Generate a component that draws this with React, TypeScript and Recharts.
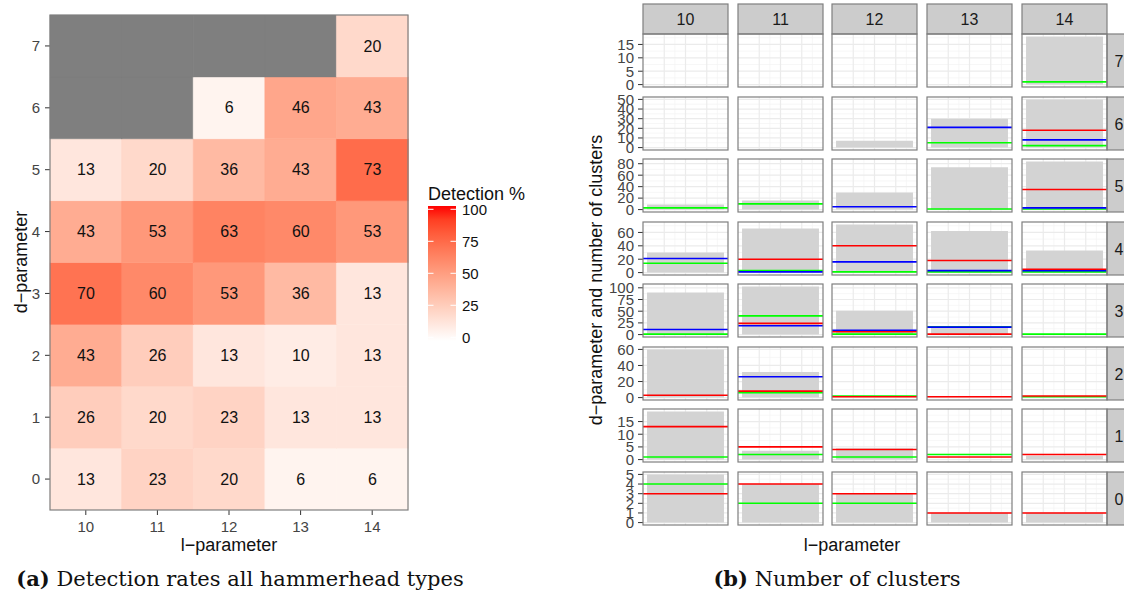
import React from "react";
import {
  BarChart, Bar, Cell, LabelList, XAxis, YAxis,
  ComposedChart, CartesianGrid, ReferenceArea, ReferenceLine,
} from "recharts";

// ── Data ───────────────────────────────────────────────────────────────────────
const L_PARAMS = [10, 11, 12, 13, 14];
const D_PARAMS = [7, 6, 5, 4, 3, 2, 1, 0]; // rows, top to bottom

// detection % (rows d = 7..0, columns l = 10..14), null = not measured
const DETECTION: (number | null)[][] = [
  [null, null, null, null, 20],
  [null, null, 6, 46, 43],
  [13, 20, 36, 43, 73],
  [43, 53, 63, 60, 53],
  [70, 60, 53, 36, 13],
  [43, 26, 13, 10, 13],
  [26, 20, 23, 13, 13],
  [13, 23, 20, 6, 6],
];
const LEGEND_TICKS = [0, 25, 50, 75, 100];

// number of clusters (rows d = 7..0, columns l = 10..14)
const CLUSTER_TOTAL: (number | null)[][] = [
  [null, null, null, null, 18],
  [null, null, 7, 30, 50],
  [9, 16, 30, 74, 84],
  [30, 66, 72, 62, 33],
  [90, 103, 51, 14, null],
  [60, 32, null, null, null],
  [19, 3.5, 4.5, null, 1.5],
  [5, 4, 3, 1, 1],
];
const CLUSTER_RED: (number | null)[][] = [
  [null, null, null, null, null],
  [null, null, null, null, 18],
  [null, null, null, null, 35],
  [null, 20, 40, 18, 5],
  [null, 24, 6, 1, null],
  [3, 8, 1, 1, 2],
  [13, 5, 4, 1, 2],
  [3, 4, 3, 1, 1],
];
const CLUSTER_BLUE: (number | null)[][] = [
  [null, null, null, null, null],
  [null, null, null, 21, 8],
  [null, null, 5, null, 3],
  [21, 1, 16, 3, 3],
  [11, 19, 9, 16, null],
  [null, 26, null, null, null],
  [null, null, null, null, null],
  [null, null, null, null, null],
];
const CLUSTER_GREEN: (number | null)[][] = [
  [null, null, null, null, 1],
  [null, null, null, 5, 2],
  [3, 10, null, 1, 1],
  [14, 3, 1, 1, 1],
  [1, 40, 1, 16.5, 1],
  [null, 6, 2, null, 1],
  [1, 2, 1, 2, null],
  [4, 2, 2, null, null],
];

// free y scales per facet row (d = 7..0)
const ROW_DOMAINS = [[-0.9, 18.9], [-2.5, 52.5], [-4.2, 88.2], [-3.6, 75.6], [-5.15, 108.15], [-3, 63], [-0.95, 19.95], [-0.25, 5.25]];
const ROW_TICKS = [
  [0, 5, 10, 15], [0, 10, 20, 30, 40, 50], [0, 20, 40, 60, 80], [0, 20, 40, 60],
  [0, 25, 50, 75, 100], [0, 20, 40, 60], [0, 5, 10, 15], [0, 1, 2, 3, 4, 5],
];
const ROW_MINOR = [
  [2.5, 7.5, 12.5, 17.5], [5, 15, 25, 35, 45], [10, 30, 50, 70], [10, 30, 50, 70],
  [12.5, 37.5, 62.5, 87.5], [10, 30, 50], [2.5, 7.5, 12.5, 17.5], [0.5, 1.5, 2.5, 3.5, 4.5],
];

// ── Style ──────────────────────────────────────────────────────────────────────
const FONT = "'Liberation Sans', Arial, sans-serif";
const SERIF = "'DejaVu Serif', serif";
const BORDER = "#7F7F7F";
const NA_GREY = "#7F7F7F";
const TXT = "#444444";

// white → red in CIELAB, like ggplot's scale_fill_gradient
function labHex(L: number, a: number, b: number) {
  const fy = (L + 16) / 116, fx = fy + a / 500, fz = fy - b / 200;
  const f = (t: number) => (t ** 3 > 0.008856 ? t ** 3 : (t - 16 / 116) / 7.787);
  const X = 0.95047 * f(fx), Y = f(fy), Z = 1.08883 * f(fz);
  const lin = [
    3.2406 * X - 1.5372 * Y - 0.4986 * Z,
    -0.9689 * X + 1.8758 * Y + 0.0415 * Z,
    0.0557 * X - 0.204 * Y + 1.057 * Z,
  ];
  return "#" + lin.map((c) => {
    const g = c > 0.0031308 ? 1.055 * c ** (1 / 2.4) - 0.055 : 12.92 * c;
    return Math.round(Math.min(1, Math.max(0, g)) * 255).toString(16).padStart(2, "0");
  }).join("");
}
const heat = (v: number) => {
  const t = v / 100;
  return labHex(100 - t * 46.76, 80.09 * t, 67.2 * t);
};

// ── Heatmap (a) ────────────────────────────────────────────────────────────────
const heatData = L_PARAMS.map((l, ci) => {
  const row: Record<string, any> = { l: String(l) };
  D_PARAMS.forEach((d, ri) => {
    row[`d${d}`] = 1;
    row[`v${d}`] = DETECTION[ri][ci];
  });
  return row;
});

function Heatmap() {
  const stack = [...D_PARAMS].reverse();
  return (
    <div style={{ position: "absolute", left: 0, top: 0 }}>
      <BarChart width={420} height={540} data={heatData} barCategoryGap={0} barGap={0}
        margin={{ top: 15, right: 12, bottom: 0, left: 0 }}>
        <XAxis dataKey="l" height={30} axisLine={false} tickSize={5} tickMargin={6}
          tickLine={{ stroke: "#333" }} tick={{ fontSize: 15, fill: TXT, fontFamily: FONT }} />
        <YAxis type="number" domain={[0, 8]} allowDataOverflow width={50}
          ticks={[0.5, 1.5, 2.5, 3.5, 4.5, 5.5, 6.5, 7.5]} tickFormatter={(v) => String(v - 0.5)}
          axisLine={false} tickSize={5} tickMargin={5} tickLine={{ stroke: "#333" }}
          tick={{ fontSize: 15, fill: TXT, fontFamily: FONT }} />
        {stack.map((d) => {
          const ri = D_PARAMS.indexOf(d);
          return (
            <Bar key={d} dataKey={`d${d}`} stackId="h" isAnimationActive={false}>
              {L_PARAMS.map((_, ci) => {
                const v = DETECTION[ri][ci];
                const col = v == null ? NA_GREY : heat(v);
                return <Cell key={ci} fill={col} stroke={col} strokeWidth={0.5} />;
              })}
              <LabelList dataKey={`v${d}`} position="center" fill="#111"
                style={{ fontSize: 16, fontFamily: FONT }} />
            </Bar>
          );
        })}
      </BarChart>
    </div>
  );
}

// ── Facet panels (b) ───────────────────────────────────────────────────────────
const COL_X = [643, 738, 832, 927, 1022];
const ROW_Y = [34, 97, 159, 222, 284, 347, 409, 472];
const PW = 85;
const PH = 53;
const YW = 50;
const PAD = 10; // room for tick labels at the panel edges

function Panel({ r, c }: { r: number; c: number }) {
  const withAxis = c === 0;
  const yw = withAxis ? YW : 0;
  const total = CLUSTER_TOTAL[r][c];
  const lines: [string, number | null][] = [
    ["#00FF00", CLUSTER_GREEN[r][c]],
    ["#0000FF", CLUSTER_BLUE[r][c]],
    ["#FF0000", CLUSTER_RED[r][c]],
  ];
  return (
    <div style={{ position: "absolute", left: COL_X[c] - yw, top: ROW_Y[r] - PAD }}>
      <ComposedChart width={PW + yw} height={PH + 2 * PAD} data={[{ x: 0 }, { x: 4 }]}
        margin={{ top: PAD, right: 0, bottom: PAD, left: 0 }}>
        <CartesianGrid horizontalValues={ROW_MINOR[r]} verticalValues={[0.5, 1.5, 2.5, 3.5]}
          stroke="#F4F4F4" strokeWidth={0.7} />
        <CartesianGrid horizontalValues={ROW_TICKS[r]} verticalValues={[1, 2, 3]}
          stroke="#EBEBEB" strokeWidth={1.2} />
        <XAxis type="number" dataKey="x" domain={[0, 4]} allowDataOverflow hide />
        <YAxis type="number" domain={ROW_DOMAINS[r]} allowDataOverflow ticks={ROW_TICKS[r]}
          hide={!withAxis} width={yw} axisLine={false} tickSize={5} tickMargin={4}
          tickLine={{ stroke: "#333" }} interval={0}
          tick={{ fontSize: 15, fill: TXT, fontFamily: FONT }} />
        {total != null && (
          <ReferenceArea x1={0.19} x2={3.81} y1={0} y2={total} fill="#D3D3D3" fillOpacity={1}
            stroke="none" ifOverflow="extendDomain" />
        )}
        {lines.map(([col, v]) =>
          v == null ? null : (
            <ReferenceLine key={col} y={v} stroke={col} strokeWidth={1.6} ifOverflow="extendDomain" />
          )
        )}
      </ComposedChart>
    </div>
  );
}

// ── Frames, strips, titles, legend ─────────────────────────────────────────────
function Overlay() {
  const barTop = 206;
  const barBottom = 341;
  const tickY = (v: number) => 209.3 + (100 - v) * 1.28;
  const stops = Array.from({ length: 11 }, (_, i) => i * 10);
  return (
    <svg width={1124} height={603} style={{ position: "absolute", left: 0, top: 0, pointerEvents: "none" }}
      fontFamily={FONT}>
      <defs>
        <linearGradient id="detGrad" x1="0" y1="1" x2="0" y2="0">
          {stops.map((s) => <stop key={s} offset={`${s}%`} stopColor={heat(s)} />)}
        </linearGradient>
      </defs>

      {/* heatmap frame + titles */}
      <rect x={50} y={15} width={358} height={495} fill="none" stroke={BORDER} strokeWidth={1.2} />
      <text x={229} y={551} textAnchor="middle" fontSize={18} fill="#111">l−parameter</text>
      <text transform="translate(27,262) rotate(-90)" textAnchor="middle" fontSize={18} fill="#111">d−parameter</text>

      {/* legend */}
      <text x={428} y={200} fontSize={18} fill="#111">Detection %</text>
      <rect x={428} y={barTop} width={28} height={barBottom - barTop} fill="url(#detGrad)" />
      {LEGEND_TICKS.map((v) => (
        <g key={v}>
          <line x1={428} x2={433.5} y1={tickY(v)} y2={tickY(v)} stroke="#fff" strokeWidth={1} />
          <line x1={450.5} x2={456} y1={tickY(v)} y2={tickY(v)} stroke="#fff" strokeWidth={1} />
          <text x={462} y={tickY(v) + 5.5} fontSize={15} fill="#111">{v}</text>
        </g>
      ))}

      {/* facet strips and panel borders */}
      {L_PARAMS.map((l, c) => (
        <g key={l}>
          <rect x={COL_X[c]} y={4} width={PW} height={30} fill="#CCCCCC" stroke={BORDER} strokeWidth={1.2} />
          <text x={COL_X[c] + PW / 2} y={25} textAnchor="middle" fontSize={16} fill="#1A1A1A">{l}</text>
        </g>
      ))}
      {D_PARAMS.map((d, r) => (
        <g key={d}>
          <rect x={1107} y={ROW_Y[r]} width={30} height={PH} fill="#CCCCCC" stroke={BORDER} strokeWidth={1.2} />
          <text x={1119} y={ROW_Y[r] + PH / 2 + 6} textAnchor="middle" fontSize={16} fill="#1A1A1A">{d}</text>
          {L_PARAMS.map((l, c) => (
            <rect key={l} x={COL_X[c]} y={ROW_Y[r]} width={PW} height={PH} fill="none" stroke={BORDER} strokeWidth={1.2} />
          ))}
        </g>
      ))}
      <text x={852} y={551} textAnchor="middle" fontSize={18} fill="#111">l−parameter</text>
      <text transform="translate(602,280) rotate(-90)" textAnchor="middle" fontSize={18} fill="#111">
        d−parameter and number of clusters
      </text>

      {/* captions */}
      <text x={240} y={586} textAnchor="middle" fontFamily={SERIF} fontSize={21} fill="#111">
        <tspan fontWeight="bold">(a)</tspan> Detection rates all hammerhead types
      </text>
      <text x={837} y={586} textAnchor="middle" fontFamily={SERIF} fontSize={21} fill="#111">
        <tspan fontWeight="bold">(b)</tspan> Number of clusters
      </text>
    </svg>
  );
}

export default function App() {
  return (
    <div style={{ position: "fixed", left: 0, top: 0, width: 1124, height: 603, overflow: "hidden", background: "#fff", fontFamily: FONT }}>
      <Heatmap />
      {D_PARAMS.map((_, r) => L_PARAMS.map((_, c) => <Panel key={`${r}-${c}`} r={r} c={c} />))}
      <Overlay />
    </div>
  );
}
